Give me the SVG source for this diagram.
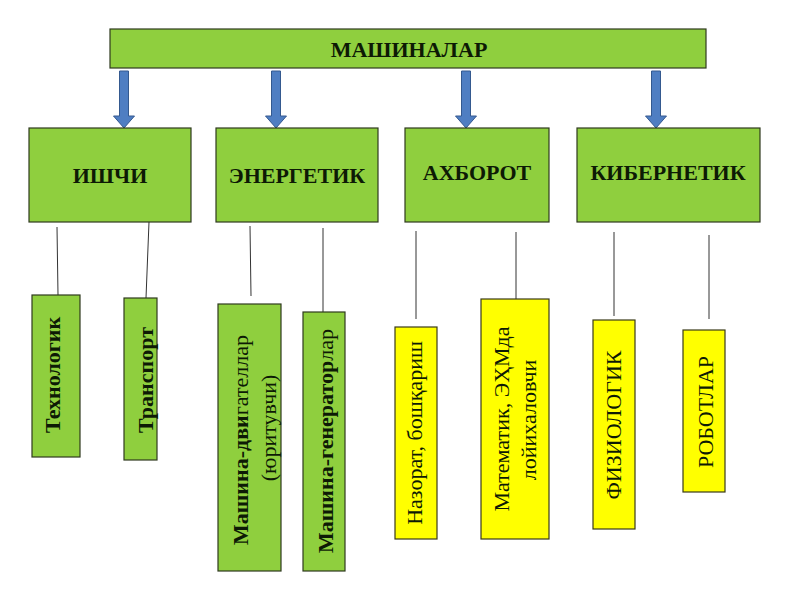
<svg xmlns="http://www.w3.org/2000/svg" width="800" height="600" viewBox="0 0 800 600">
<defs>
<style>
.g{fill:#8fcf3e;stroke:#2f3a1f;stroke-width:1.2}
.y{fill:#ffff00;stroke:#3a3a1a;stroke-width:1.2}
.t{font-family:"Liberation Serif","Times New Roman",serif;fill:#0d1a05}
.b{font-weight:bold}
.h{font-size:22px;font-weight:bold;text-anchor:middle;dominant-baseline:central}
.v{font-size:22px;text-anchor:middle;dominant-baseline:central}
.ln{stroke:#333;stroke-width:1;fill:none}
.ar{fill:#4f7ec2;stroke:#34598f;stroke-width:1}
</style>
</defs>
<rect width="800" height="600" fill="#ffffff"/>
<g id="connectors">
<path class="ar" d="M119.5 71h9v45h6l-10.5 12l-10.5-12h6z"/>
<path class="ar" d="M271.5 71h9v45h6l-10.5 12l-10.5-12h6z"/>
<path class="ar" d="M461.5 71h9v45h6l-10.5 12l-10.5-12h6z"/>
<path class="ar" d="M651.5 71h9v45h6l-10.5 12l-10.5-12h6z"/>
<line class="ln" x1="57" y1="227" x2="58" y2="295"/>
<line class="ln" x1="149" y1="222" x2="146" y2="298"/>
<line class="ln" x1="250" y1="226" x2="251" y2="296"/>
<line class="ln" x1="323" y1="228" x2="323" y2="312"/>
<line class="ln" x1="416" y1="231" x2="416" y2="319"/>
<line class="ln" x1="516" y1="232" x2="516" y2="300"/>
<line class="ln" x1="614" y1="232" x2="614" y2="316"/>
<line class="ln" x1="709" y1="235" x2="709" y2="319"/>
</g>
<g id="mashinalar">
<rect class="g" x="110" y="29" width="596" height="39"/>
<text class="t h" x="409" y="49">МАШИНАЛАР</text>
</g>
<g id="ishchi">
<rect class="g" x="29" y="128" width="162" height="94"/>
<text class="t h" x="110" y="175">ИШЧИ</text>
</g>
<g id="energetik">
<rect class="g" x="216" y="128" width="162" height="94"/>
<text class="t h" x="297" y="175">ЭНЕРГЕТИК</text>
</g>
<g id="axborot">
<rect class="g" x="405" y="128" width="144" height="94"/>
<text class="t h" x="477" y="172">АХБОРОТ</text>
</g>
<g id="kibernetik">
<rect class="g" x="577" y="128" width="183" height="94"/>
<text class="t h" x="668" y="172">КИБЕРНЕТИК</text>
</g>
<g id="texnologik">
<rect class="g" x="32" y="295" width="48" height="162"/>
<text class="t v b" transform="translate(52 375) rotate(-90)">Технологик</text>
</g>
<g id="transport">
<rect class="g" x="124" y="298" width="33" height="162"/>
<text class="t v b" transform="translate(145 380) rotate(-90)">Транспорт</text>
</g>
<g id="dvigatel">
<rect class="g" x="218" y="304" width="63" height="267"/>
<text class="t v" transform="translate(240 440) rotate(-90)"><tspan font-weight="bold">Машина-дви</tspan>гателлар</text>
<text class="t v" transform="translate(268 428) rotate(-90)">(юритувчи)</text>
</g>
<g id="generator">
<rect class="g" x="303" y="312" width="42" height="259"/>
<text class="t v" transform="translate(325 441) rotate(-90)"><tspan font-weight="bold">Машина-генератор</tspan>лар</text>
</g>
<g id="nazorat">
<rect class="y" x="395" y="327" width="42" height="212"/>
<text class="t v" transform="translate(414 433) rotate(-90)">Назорат, бошқариш</text>
</g>
<g id="matematik">
<rect class="y" x="481" y="299" width="68" height="240"/>
<text class="t v" transform="translate(501 419) rotate(-90)">Математик, ЭҲМда</text>
<text class="t v" transform="translate(528 420) rotate(-90)">лойихаловчи</text>
</g>
<g id="fiziologik">
<rect class="y" x="593" y="320" width="42" height="209"/>
<text class="t v" transform="translate(613 425) rotate(-90)">ФИЗИОЛОГИК</text>
</g>
<g id="robotlar">
<rect class="y" x="683" y="330" width="42" height="162"/>
<text class="t v" transform="translate(705 412) rotate(-90)">РОБОТЛАР</text>
</g>
</svg>
